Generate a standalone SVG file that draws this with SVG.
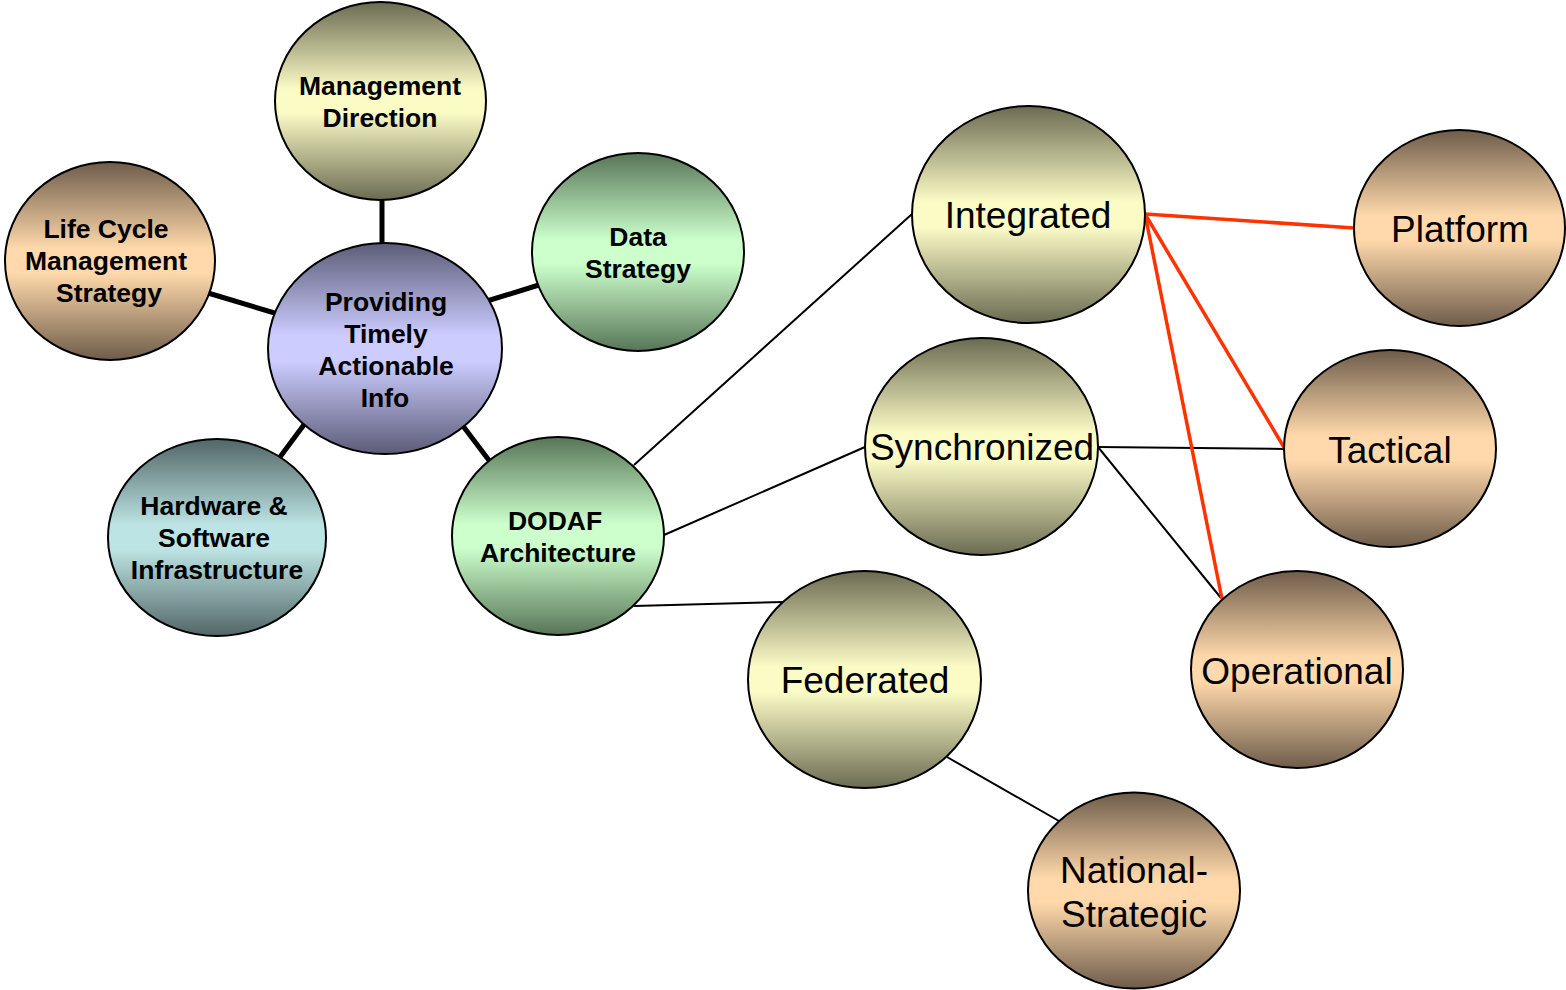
<svg xmlns="http://www.w3.org/2000/svg" width="1566" height="990" viewBox="0 0 1566 990">
<defs>
<linearGradient id="gY" x1="0" y1="0" x2="0" y2="1">
<stop offset="0" stop-color="#6b6b52"/><stop offset="0.44" stop-color="#fbfbc6"/><stop offset="0.56" stop-color="#fbfbc6"/><stop offset="1" stop-color="#6b6b52"/>
</linearGradient>
<linearGradient id="gT" x1="0" y1="0" x2="0" y2="1">
<stop offset="0" stop-color="#6e5c4a"/><stop offset="0.44" stop-color="#ffd9ab"/><stop offset="0.56" stop-color="#ffd9ab"/><stop offset="1" stop-color="#6e5c4a"/>
</linearGradient>
<linearGradient id="gG" x1="0" y1="0" x2="0" y2="1">
<stop offset="0" stop-color="#577557"/><stop offset="0.44" stop-color="#ccffcc"/><stop offset="0.56" stop-color="#ccffcc"/><stop offset="1" stop-color="#577557"/>
</linearGradient>
<linearGradient id="gP" x1="0" y1="0" x2="0" y2="1">
<stop offset="0" stop-color="#5c5c78"/><stop offset="0.44" stop-color="#ccccff"/><stop offset="0.56" stop-color="#ccccff"/><stop offset="1" stop-color="#5c5c78"/>
</linearGradient>
<linearGradient id="gC" x1="0" y1="0" x2="0" y2="1">
<stop offset="0" stop-color="#526666"/><stop offset="0.44" stop-color="#bde4e4"/><stop offset="0.56" stop-color="#bde4e4"/><stop offset="1" stop-color="#526666"/>
</linearGradient>
</defs>
<style>
ellipse{stroke:#000;stroke-width:2}
.b{font-family:"Liberation Sans",Arial,sans-serif;font-weight:bold;font-size:26.5px;text-anchor:middle;fill:#000}
.r{font-family:"Liberation Sans",Arial,sans-serif;font-size:37px;text-anchor:middle;fill:#000}
.thick{stroke:#000;stroke-width:5;fill:none}
.thin{stroke:#000;stroke-width:2;fill:none}
.red{stroke:#ff3300;stroke-width:3.5;fill:none}
</style>
<rect width="1566" height="990" fill="#fff"/>
<g id="connectors">
<line class="thick" x1="382" y1="195" x2="382" y2="246"/>
<line class="thick" x1="208" y1="293" x2="278" y2="314"/>
<line class="thick" x1="487" y1="301" x2="542" y2="284"/>
<line class="thick" x1="280" y1="457" x2="306" y2="422"/>
<line class="thick" x1="463" y1="426" x2="491" y2="463"/>
<line class="thin" x1="634" y1="465" x2="912" y2="214"/>
<line class="thin" x1="664" y1="535" x2="865" y2="447"/>
<line class="thin" x1="634" y1="606" x2="784" y2="602"/>
<line class="thin" x1="947" y1="757" x2="1059" y2="821"/>
<line class="thin" x1="1098" y1="447" x2="1285" y2="449"/>
<line class="thin" x1="1098" y1="447" x2="1221" y2="598"/>
<line class="red" x1="1145" y1="214" x2="1354" y2="228"/>
<line class="red" x1="1145" y1="214" x2="1285" y2="449"/>
<line class="red" x1="1145" y1="214" x2="1222" y2="599"/>
</g>
<g id="management-direction"><ellipse cx="380.5" cy="101" rx="105.5" ry="99" fill="url(#gY)"/><text class="b" x="380" y="95">Management</text><text class="b" x="380" y="127">Direction</text></g>
<g id="life-cycle"><ellipse cx="110" cy="261" rx="105" ry="99" fill="url(#gT)"/><text class="b" x="106" y="238">Life Cycle</text><text class="b" x="106" y="270">Management</text><text class="b" x="109" y="302">Strategy</text></g>
<g id="data-strategy"><ellipse cx="638" cy="252" rx="106" ry="99" fill="url(#gG)"/><text class="b" x="638" y="246">Data</text><text class="b" x="638" y="278">Strategy</text></g>
<g id="providing"><ellipse cx="385" cy="348.5" rx="117" ry="105.5" fill="url(#gP)"/><text class="b" x="386" y="311">Providing</text><text class="b" x="386" y="343">Timely</text><text class="b" x="386" y="375">Actionable</text><text class="b" x="385" y="407">Info</text></g>
<g id="hardware"><ellipse cx="217" cy="537.5" rx="109" ry="98.5" fill="url(#gC)"/><text class="b" x="214" y="515">Hardware &amp;</text><text class="b" x="214" y="547">Software</text><text class="b" x="217" y="579">Infrastructure</text></g>
<g id="dodaf"><ellipse cx="558" cy="536" rx="106" ry="99" fill="url(#gG)"/><text class="b" x="555" y="530">DODAF</text><text class="b" x="558" y="562">Architecture</text></g>
<g id="integrated"><ellipse cx="1028.5" cy="214.5" rx="116.5" ry="108.5" fill="url(#gY)"/><text class="r" x="1028" y="228">Integrated</text></g>
<g id="synchronized"><ellipse cx="981.5" cy="446.5" rx="116.5" ry="108.5" fill="url(#gY)"/><text class="r" x="982" y="460">Synchronized</text></g>
<g id="federated"><ellipse cx="864.5" cy="679.5" rx="116.5" ry="108.5" fill="url(#gY)"/><text class="r" x="865" y="693">Federated</text></g>
<g id="platform"><ellipse cx="1459.5" cy="228" rx="105.5" ry="98" fill="url(#gT)"/><text class="r" x="1460" y="242">Platform</text></g>
<g id="tactical"><ellipse cx="1390" cy="448.5" rx="106" ry="98.5" fill="url(#gT)"/><text class="r" x="1390" y="463">Tactical</text></g>
<g id="operational"><ellipse cx="1297" cy="669.5" rx="106" ry="98.5" fill="url(#gT)"/><text class="r" x="1297" y="684">Operational</text></g>
<g id="national-strategic"><ellipse cx="1134" cy="890.5" rx="106" ry="98" fill="url(#gT)"/><text class="r" x="1134" y="883">National-</text><text class="r" x="1134" y="927">Strategic</text></g>
</svg>
